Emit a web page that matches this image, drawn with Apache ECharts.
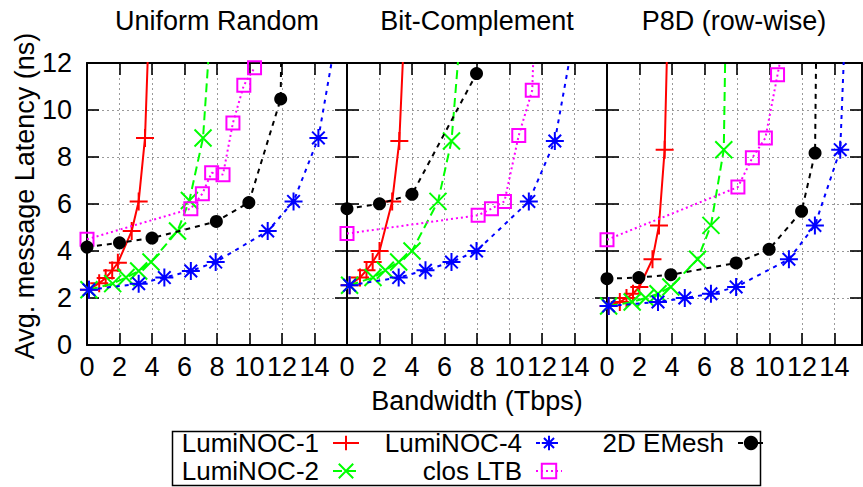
<!DOCTYPE html>
<html><head><meta charset="utf-8">
<script src="https://cdn.jsdelivr.net/npm/echarts@6/dist/echarts.min.js"></script>
<style>html,body{margin:0;padding:0;background:#fff}#c{width:863px;height:487px}</style>
</head><body><div id="c"></div>
<script>
// ---- text ----
const panelTitles = ['Uniform Random', 'Bit-Complement', 'P8D (row-wise)'];
const xAxisTitle = 'Bandwidth (Tbps)';
const yAxisTitle = 'Avg. message Latency (ns)';
const seriesNames = ['LumiNOC-1', 'LumiNOC-2', 'LumiNOC-4', 'clos LTB', '2D EMesh'];
const xTickStep = 2;
const yTickStep = 2;
const yMin = 0, yMax = 12;

// ---- Uniform Random : [bandwidth, latency] ----
const ur_lumi1 = [[0.12,2.35],[0.75,2.63],[1.15,2.85],[1.55,3.17],[1.9,3.5],[2.75,4.85],[3.18,6.11],[3.57,8.81],[3.83,14]];
const ur_lumi2 = [[0.12,2.35],[1.58,2.61],[2.4,2.87],[3.18,3.15],[3.94,3.53],[5.57,4.85],[6.3,6.15],[7.14,8.81],[7.65,14]];
const ur_lumi4 = [[0.12,2.35],[3.18,2.61],[4.76,2.87],[6.39,3.15],[7.92,3.53],[11.12,4.85],[12.71,6.11],[14.24,8.81],[15.55,14]];
const ur_clos  = [[0,4.5],[6.39,5.8],[7.1,6.44],[7.67,7.33],[8.37,7.25],[8.98,9.45],[9.65,11.05],[10.31,11.8]];
const ur_mesh  = [[0,4.17],[2,4.35],[4,4.55],[7.96,5.26],[9.96,6.06],[11.92,10.47],[12.0,16]];

// ---- Bit-Complement ----
const bc_lumi1 = [[0.16,2.54],[0.8,2.87],[1.2,3.18],[1.58,3.53],[2.0,4.0],[2.78,6.11],[3.22,8.68],[3.56,14]];
const bc_lumi2 = [[0.16,2.54],[1.6,2.87],[2.36,3.18],[3.18,3.53],[4.0,4.0],[5.6,6.11],[6.43,8.68],[7.06,14]];
const bc_lumi4 = [[0.16,2.54],[3.18,2.87],[4.83,3.18],[6.43,3.53],[7.97,4.0],[11.19,6.11],[12.79,8.68],[14.18,14]];
const bc_clos  = [[0,4.74],[8.07,5.52],[8.89,5.8],[9.69,6.11],[10.57,8.92],[11.4,10.84],[11.65,16]];
const bc_mesh  = [[0,5.8],[2,6.01],[4,6.41],[7.97,11.55]];

// ---- P8D (row-wise) ----
const p8_lumi1 = [[0.1,1.66],[0.79,1.83],[1.2,2.0],[1.6,2.18],[1.99,2.47],[2.8,3.65],[3.2,5.09],[3.55,8.31],[3.82,16]];
const p8_lumi2 = [[0.1,1.66],[1.55,1.83],[2.38,2.0],[3.14,2.18],[3.93,2.47],[5.58,3.65],[6.4,5.09],[7.19,8.31],[7.36,16]];
const p8_lumi4 = [[0.1,1.66],[3.14,1.83],[4.79,2.0],[6.4,2.18],[7.95,2.47],[11.2,3.65],[12.8,5.09],[14.36,8.31],[14.8,16]];
const p8_clos  = [[0,4.48],[8.06,6.72],[8.95,7.97],[9.75,8.81],[10.5,11.5],[11.76,16]];
const p8_mesh  = [[0,2.82],[1.96,2.87],[3.93,2.99],[7.95,3.49],[9.98,4.07],[11.98,5.69],[12.81,8.17],[12.93,16]];

const panelData = [
  [ur_lumi1, ur_lumi2, ur_lumi4, ur_clos, ur_mesh],
  [bc_lumi1, bc_lumi2, bc_lumi4, bc_clos, bc_mesh],
  [p8_lumi1, p8_lumi2, p8_lumi4, p8_clos, p8_mesh]
];

// ---- layout / style ----
const FONT = 'Liberation Sans';
const FS = 27;
const LFS = 26;
const gridLeft = [87, 347, 607];
const gridWidth = [260, 260, 255];
const xMaxes = [16, 16, 15.7];
const gridTop = 63, gridHeight = 282;

const styles = [
  {color:'#ff0000', symbol:'path://M0,5L10,5M5,0L5,10', size:18, type:'solid', fill:'#ff0000'},
  {color:'#00ff00', symbol:'path://M0,0L10,10M10,0L0,10', size:17, type:[9,5], fill:'#00ff00'},
  {color:'#0000ff', symbol:'path://M0,5L10,5M5,0L5,10M1.5,1.5L8.5,8.5M8.5,1.5L1.5,8.5', size:18, type:[4,5], fill:'#0000ff'},
  {color:'#ff00ff', symbol:'rect', size:13, type:[2,3], fill:'rgba(0,0,0,0)'},
  {color:'#000000', symbol:'circle', size:13, type:[5,5], fill:'#000000'}
];

const grids = [], xAxes = [], yAxes = [], series = [];
const splitStyle = {color:'#9a9a9a', width:1, type:[2,3]};
const axisLine = {show:true, onZero:false, lineStyle:{color:'#000', width:2}};
const tick = {show:true, inside:true, length:12, lineStyle:{color:'#000', width:1.6}};

for (let i = 0; i < 3; i++) {
  grids.push({left:gridLeft[i], top:gridTop, width:gridWidth[i], height:gridHeight, containLabel:false});
  xAxes.push({
    type:'value', gridIndex:i, position:'bottom', min:0, max:xMaxes[i], interval:xTickStep,
    axisLine, axisTick:tick,
    axisLabel:{show:true, color:'#000', fontSize:FS, fontFamily:FONT, margin:8, showMaxLabel:false,
      formatter:(v)=> (v % 2 === 0 && v <= 14) ? String(v) : ''},
    splitLine:{show:true, lineStyle:splitStyle}
  });
  xAxes.push({
    type:'value', gridIndex:i, position:'top', min:0, max:xMaxes[i], interval:xTickStep,
    axisLine, axisTick:tick, axisLabel:{show:false}, splitLine:{show:false}
  });
  yAxes.push({
    type:'value', gridIndex:i, position:'left', min:yMin, max:yMax, interval:yTickStep,
    axisLine, axisTick:tick,
    axisLabel:{show:i===0, color:'#000', fontSize:FS, fontFamily:FONT, margin:15},
    splitLine:{show:true, lineStyle:splitStyle}
  });
  yAxes.push({
    type:'value', gridIndex:i, position:'right', min:yMin, max:yMax, interval:yTickStep,
    axisLine, axisTick:tick, axisLabel:{show:false}, splitLine:{show:false}
  });
  for (let s = 0; s < 5; s++) {
    const st = styles[s];
    series.push({
      name: seriesNames[s], type:'line', xAxisIndex:2*i, yAxisIndex:2*i,
      data: panelData[i][s], clip:true, animation:false,
      symbol: st.symbol, symbolSize: st.size, showAllSymbol:true,
      lineStyle:{color:st.color, width:2, type:st.type},
      itemStyle:{color:st.fill, borderColor:st.color, borderWidth: s===4 ? 0 : 2},
      emphasis:{disabled:true}, z: 2 + s
    });
  }
}

// legend: one component per entry, text right-aligned before its sample
const legendPos = [
  {name:'LumiNOC-1', right:503, top:430},
  {name:'LumiNOC-2', right:503, top:458},
  {name:'LumiNOC-4', right:300, top:430},
  {name:'clos LTB',  right:300, top:458},
  {name:'2D EMesh',  right:98,  top:430}
];
const legends = legendPos.map(p => ({
  data:[p.name], right:p.right, top:p.top, align:'right', orient:'horizontal',
  itemWidth:26, itemHeight:18, padding:0, selectedMode:false,
  textStyle:{color:'#000', fontSize:LFS, fontFamily:FONT, lineHeight:24, padding:[0,9,0,0]}
}));

const txt = (t, x, y, extra) => Object.assign({
  type:'text', x, y, silent:true,
  style:{text:t, fill:'#000', fontSize:FS, fontFamily:FONT, align:'center', verticalAlign:'middle'}
}, extra || {});

const graphics = [
  txt(panelTitles[0], 217, 21), txt(panelTitles[1], 477, 21), txt(panelTitles[2], 734, 21),
  txt(xAxisTitle, 477, 401),
  txt(yAxisTitle, 25, 196, {rotation: Math.PI/2}),
  {type:'rect', silent:true, shape:{x:172.5, y:431.5, width:588, height:54},
   style:{fill:'none', stroke:'#000', lineWidth:1.5}}
];

const chart = echarts.init(document.getElementById('c'), null, {renderer:'svg'});
chart.setOption({
  animation:false, backgroundColor:'#fff',
  grid:grids, xAxis:xAxes, yAxis:yAxes, series, legend:legends, graphic:graphics
});
</script></body></html>
